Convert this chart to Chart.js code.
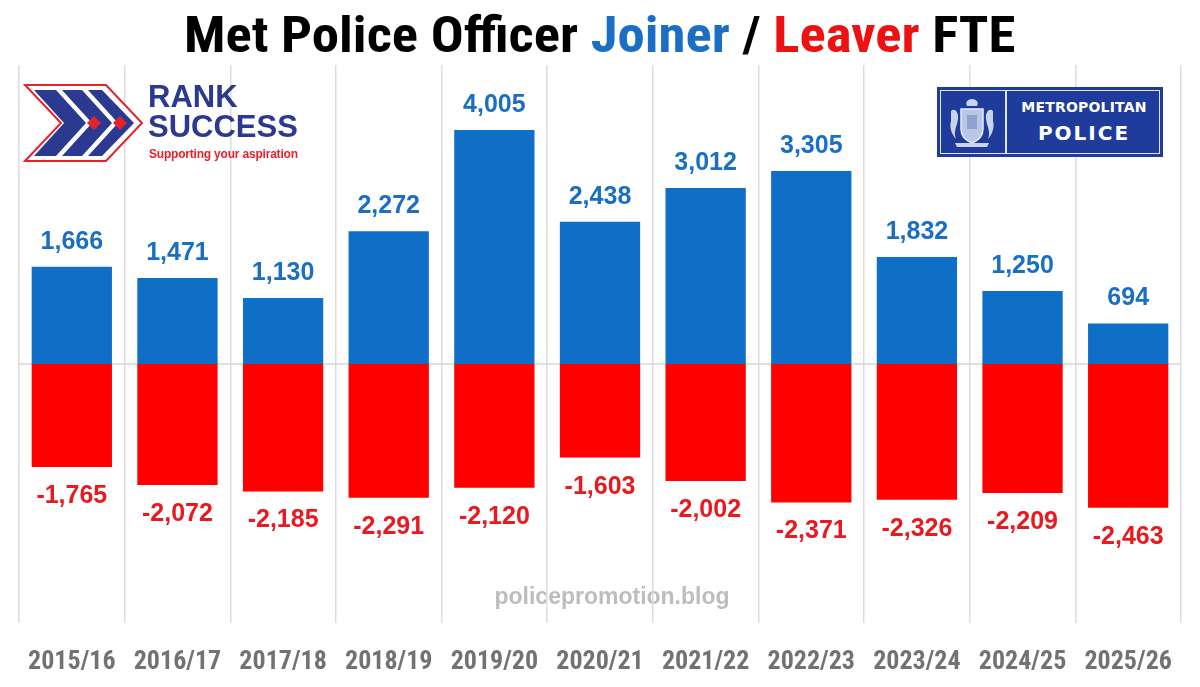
<!DOCTYPE html>
<html>
<head>
<meta charset="utf-8">
<script src="https://cdn.jsdelivr.net/npm/chart.js@4"></script>
<style>
  body { margin: 0; background: #fff; }
  #wrap { position: relative; width: 1200px; height: 687px; overflow: hidden; }
  #title {
    position: absolute; left: 0; top: 6px; width: 1200px; text-align: center;
    font-family: 'Liberation Sans Narrow', 'Roboto Condensed', 'DejaVu Sans Condensed', sans-serif;
    font-weight: bold; font-size: 50px; color: #000;
  }
  #title span.all { display: inline-block; transform: scaleX(1.095); }
  #title .j { color: #1a6fc4; }
  #title .l { color: #ee1111; }
  #rank { position: absolute; left: 22px; top: 80px; width: 300px; height: 90px; }
  #rank .t1, #rank .t2 {
    position: absolute; left: 126px; font-family: 'Liberation Sans', Arial, sans-serif;
    font-weight: bold; font-size: 31px; color: #2b3990; line-height: 30px;
  }
  #rank .t1 { top: 2px; }
  #rank .t2 { top: 32px; }
  #rank .t3 {
    position: absolute; left: 127px; top: 67px; font-family: 'Liberation Sans', Arial, sans-serif;
    font-weight: bold; font-size: 12px; color: #e3222a; letter-spacing: -0.2px;
  }
  #met {
    position: absolute; left: 937px; top: 87px; width: 226px; height: 70px;
    background: #1f3c9c;
  }
  #met .inner {
    position: absolute; left: 3px; top: 3px; right: 3px; bottom: 3px;
    border: 1.5px solid #dfe6f5;
  }
  #met .div { position: absolute; left: 68px; top: 3px; bottom: 3px; width: 1.5px; background: #dfe6f5; }
  #met .m1, #met .m2 {
    position: absolute; left: 72px; width: 150px; text-align: center; color: #fff;
    font-family: 'DejaVu Sans', sans-serif; font-weight: bold;
  }
  #met .m1 { top: 12px; font-size: 14px; letter-spacing: 0.2px; }
  #met .m2 { top: 34px; font-size: 20px; letter-spacing: 2px; }
  #met svg { position: absolute; left: 10px; top: 8px; }
</style>
</head>
<body>
<div id="wrap">
  <canvas id="chart" width="1200" height="687"></canvas>
  <div id="title"><span class="all">Met Police Officer <span class="j">Joiner</span> / <span class="l">Leaver</span> FTE</span></div>
  <div id="rank">
    <svg width="125" height="85" viewBox="0 0 125 85">
      <polygon points="3,5 84,5 120,43 84,81 3,81 39,43" fill="#fff" stroke="#e3222a" stroke-width="2"/>
      <polygon points="12,10 34,10 64,43 34,76 12,76 42,43" fill="#2b3990"/>
      <polygon points="40,10 60,10 90,43 60,76 40,76 70,43" fill="#2b3990"/>
      <polygon points="66,10 80,10 112,43 80,76 66,76 96,43" fill="#2b3990"/>
      <polygon points="72,36 79,43 72,50 65,43" fill="#e3222a"/>
      <polygon points="98,36 105,43 98,50 91,43" fill="#e3222a"/>
    </svg>
    <div class="t1">RANK</div>
    <div class="t2">SUCCESS</div>
    <div class="t3">Supporting your aspiration</div>
  </div>
  <div id="met">
    <div class="inner"></div>
    <div class="div"></div>
    <svg width="50" height="54" viewBox="0 0 50 54">
      <path d="M25,4 C30,4 32,8 30,11 L20,11 C18,8 20,4 25,4 Z" fill="#c9d3ea"/>
      <path d="M14,14 L36,14 L36,34 C36,42 30,46 25,48 C20,46 14,42 14,34 Z" fill="#b9c6e4" stroke="#e6ebf7" stroke-width="1.5"/>
      <path d="M4,16 C8,12 12,18 11,24 C10,32 6,36 9,44 C5,40 2,32 4,26 Z" fill="#c9d3ea"/>
      <path d="M46,16 C42,12 38,18 39,24 C40,32 44,36 41,44 C45,40 48,32 46,26 Z" fill="#c9d3ea"/>
      <path d="M8,48 L42,48 L40,52 L10,52 Z" fill="#c9d3ea"/>
      <rect x="20" y="20" width="10" height="14" fill="#8ea3d1"/>
    </svg>
    <div class="m1">METROPOLITAN</div>
    <div class="m2">POLICE</div>
  </div>
</div>
<script>
// Year labels and FTE values
const categories = ['2015/16', '2016/17', '2017/18', '2018/19', '2019/20', '2020/21',
                    '2021/22', '2022/23', '2023/24', '2024/25', '2025/26'];
const joiners = [1666, 1471, 1130, 2272, 4005, 2438, 3012, 3305, 1832, 1250, 694];
const leavers = [-1765, -2072, -2185, -2291, -2120, -1603, -2002, -2371, -2326, -2209, -2463];

const blueBar = '#0f6fc6';
const redBar = '#ff0000';
const blueText = '#1a6fc4';
const redText = '#e81a1f';

const fmt = v => v.toLocaleString('en-US');

// zero line, watermark and value labels
const extras = {
    id: 'extras',
    beforeDatasetsDraw(chart) {
        const { ctx, chartArea, scales } = chart;
        const y0 = scales.y.getPixelForValue(0);
        ctx.save();
        ctx.strokeStyle = '#d6d6d6';
        ctx.lineWidth = 1.5;
        ctx.beginPath();
        ctx.moveTo(chartArea.left, y0);
        ctx.lineTo(chartArea.right, y0);
        ctx.stroke();
        ctx.restore();
    },
    beforeDraw(chart) {
        const { ctx } = chart;
        ctx.save();
        ctx.fillStyle = '#bdbdbd';
        ctx.font = 'bold 23px "Liberation Sans", Arial, sans-serif';
        ctx.textAlign = 'center';
        ctx.textBaseline = 'middle';
        ctx.fillText('policepromotion.blog', 612, 598);
        ctx.restore();
    },
    afterDatasetsDraw(chart) {
        const { ctx } = chart;
        ctx.save();
        ctx.font = 'bold 25px "Liberation Sans", Arial, sans-serif';
        ctx.textAlign = 'center';
        ctx.textBaseline = 'middle';
        chart.data.datasets.forEach((ds, i) => {
            const meta = chart.getDatasetMeta(i);
            meta.data.forEach((bar, j) => {
                const v = ds.data[j];
                if (v >= 0) {
                    ctx.fillStyle = blueText;
                    ctx.fillText(fmt(v), bar.x, bar.y - 25);
                } else {
                    ctx.fillStyle = redText;
                    ctx.fillText(fmt(v), bar.x, bar.y + 29);
                }
            });
        });
        ctx.restore();
    }
};

const ctx = document.getElementById('chart').getContext('2d');
new Chart(ctx, {
    type: 'bar',
    data: {
        labels: categories,
        datasets: [
            { label: 'Joiner', data: joiners, backgroundColor: blueBar },
            { label: 'Leaver', data: leavers, backgroundColor: redBar }
        ]
    },
    options: {
        responsive: false,
        animation: false,
        layout: { padding: { left: 19, right: 19, top: 65, bottom: 12 } },
        datasets: { bar: { barPercentage: 0.76, categoryPercentage: 1 } },
        plugins: {
            legend: { display: false },
            tooltip: { enabled: false }
        },
        scales: {
            x: {
                stacked: true,
                border: { display: false },
                grid: { color: '#dcdcdc', lineWidth: 1.5, drawTicks: false, offset: true },
                afterFit: s => { s.height = 52; },
                ticks: {
                    color: '#727272',
                    padding: 24,
                    maxRotation: 0,
                    autoSkip: false,
                    font: { family: '"Liberation Sans Narrow", "Roboto Condensed", "DejaVu Sans Condensed", sans-serif', weight: 'bold', size: 26 }
                }
            },
            y: {
                stacked: true,
                display: false,
                min: -4435,
                max: 5120
            }
        }
    },
    plugins: [extras]
});
</script>
</body>
</html>
